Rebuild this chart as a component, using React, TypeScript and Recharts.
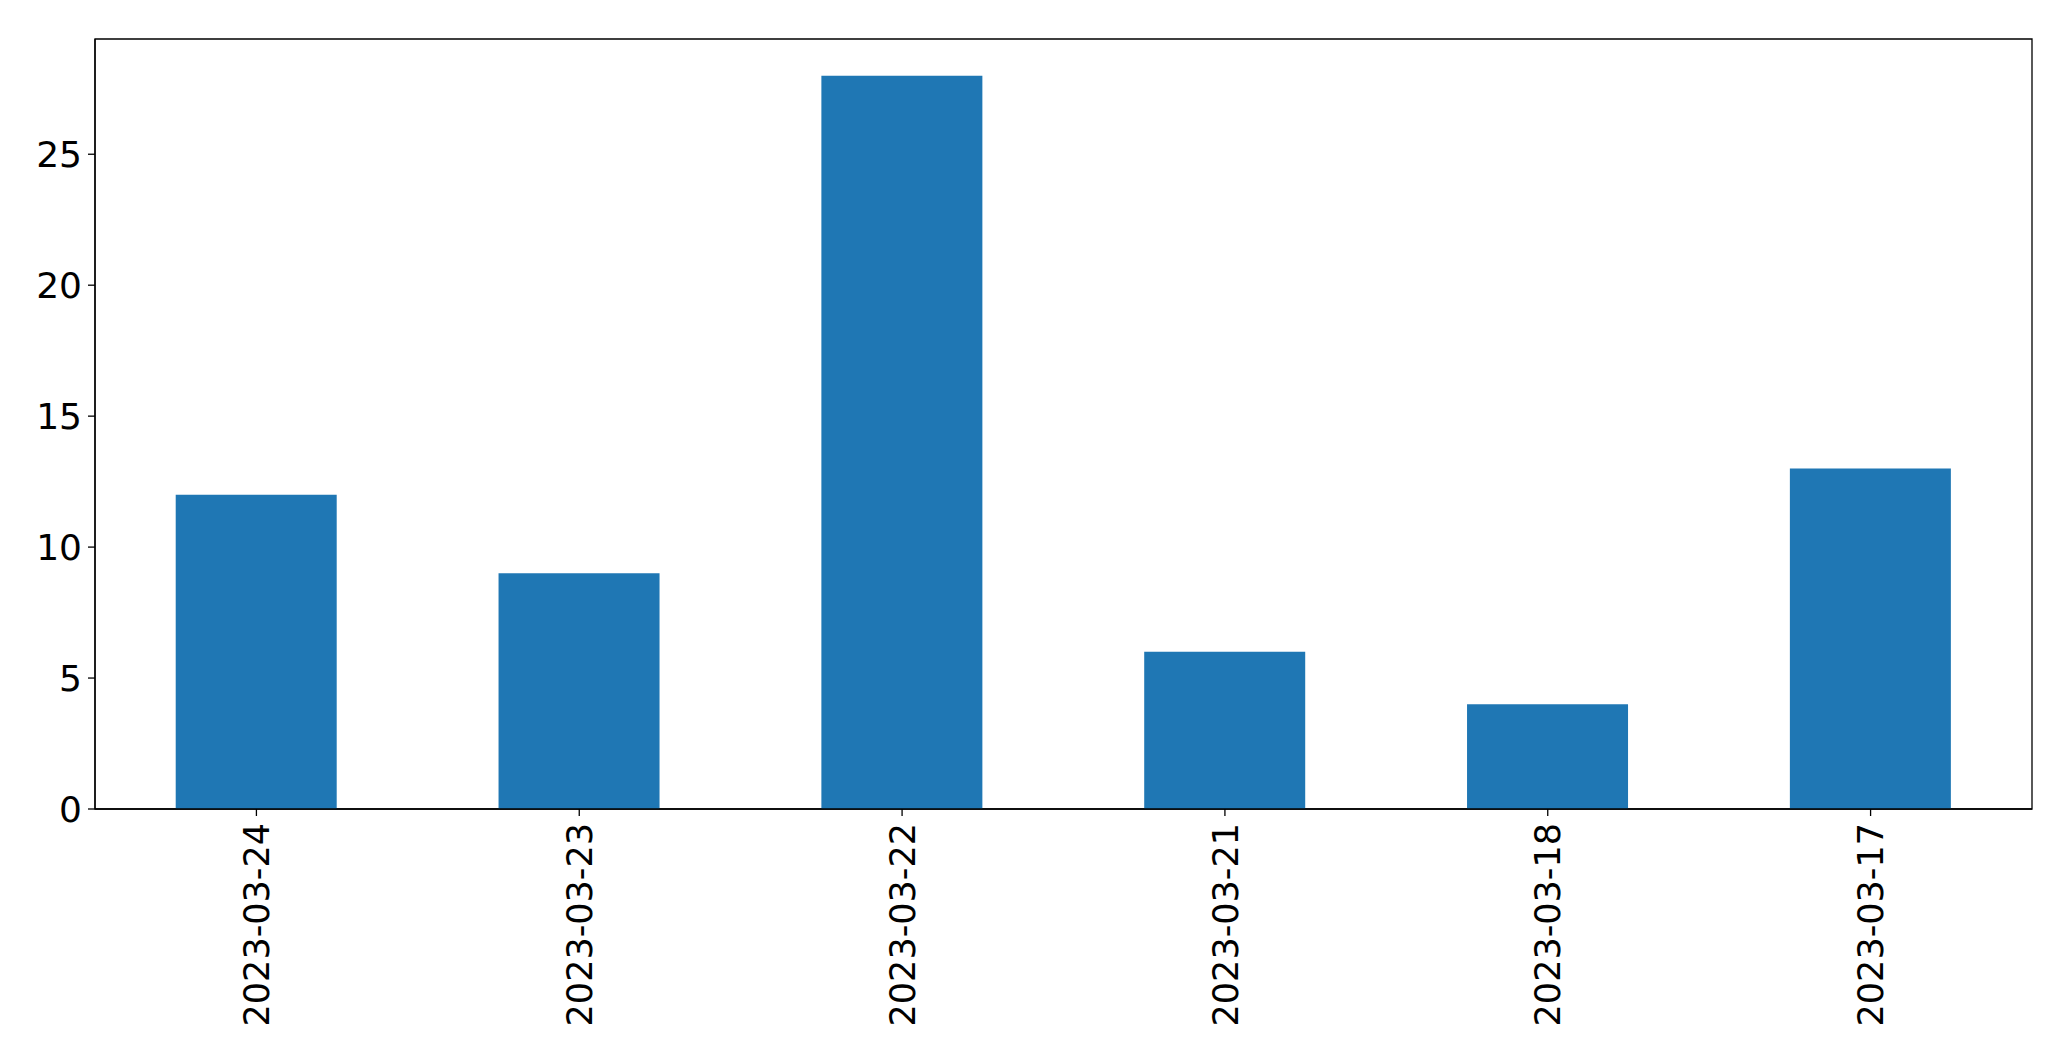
import React from 'react';
import { BarChart, Bar, XAxis, YAxis, ReferenceArea } from 'recharts';

const dates = ['2023-03-24', '2023-03-23', '2023-03-22', '2023-03-21', '2023-03-18', '2023-03-17'];
const counts = [12, 9, 28, 6, 4, 13];
const yTicks = [0, 5, 10, 15, 20, 25];
const yMax = 29.4;

const data = dates.map((d, i) => ({ date: d, count: counts[i] }));

const FONT = 'DejaVu Sans';

const RotatedTick = (props: any) => {
  const { x, y, payload } = props;
  return (
    <text
      x={x}
      y={y}
      dy="0.36em"
      textAnchor="end"
      transform={`rotate(-90, ${x}, ${y})`}
      fontFamily={FONT}
      fontSize={35}
      fill="#000"
    >
      {payload.value}
    </text>
  );
};

const App = () => {
  return (
    <div style={{ position: 'absolute', left: 0, top: 0, background: '#fff' }}>
      <BarChart
        width={2071}
        height={1061}
        data={data}
        margin={{ top: 39, right: 39, left: 0, bottom: 0 }}
        barCategoryGap="25%"
      >
        <XAxis
          dataKey="date"
          height={252}
          interval={0}
          tickSize={7}
          tickMargin={7}
          tick={<RotatedTick />}
          axisLine={{ stroke: '#000', strokeWidth: 1.3 }}
          tickLine={{ stroke: '#000', strokeWidth: 1.3 }}
        />
        <YAxis
          width={95}
          domain={[0, yMax]}
          ticks={yTicks}
          tickSize={7}
          tickMargin={6}
          tick={{ fontFamily: FONT, fontSize: 36, fill: '#000' }}
          axisLine={{ stroke: '#000', strokeWidth: 1.3 }}
          tickLine={{ stroke: '#000', strokeWidth: 1.3 }}
        />
        <Bar dataKey="count" fill="#1f77b4" isAnimationActive={false} />
        {/* frame around the plot area, like matplotlib's spines */}
        <ReferenceArea y1={0} y2={yMax} fill="none" stroke="#000" strokeWidth={1.3} />
      </BarChart>
    </div>
  );
};

export default App;
